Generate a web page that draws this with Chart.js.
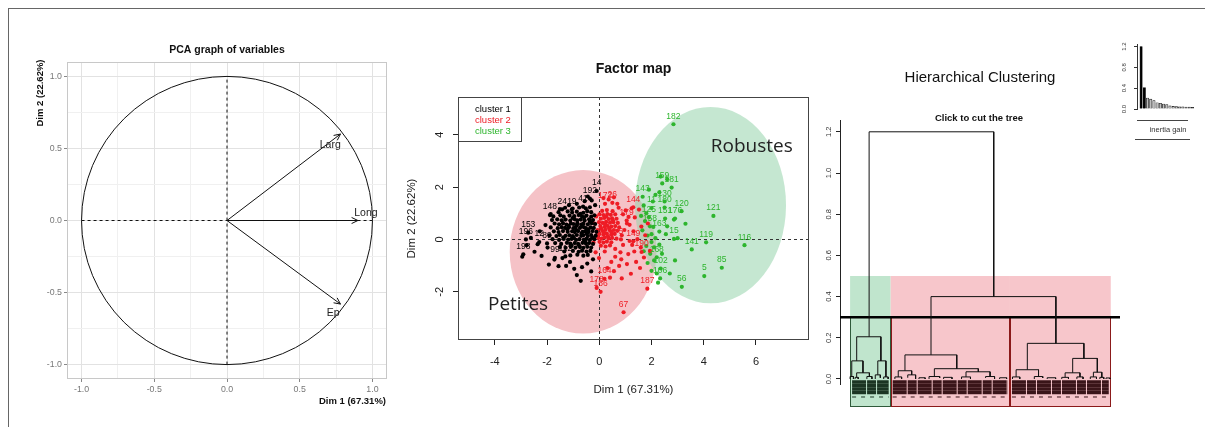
<!DOCTYPE html>
<html>
<head>
<meta charset="utf-8">
<script src="https://cdn.jsdelivr.net/npm/chart.js@4.4.0/dist/chart.umd.min.js"></script>
<style>
  body { margin: 0; background: #fff; width: 1205px; height: 427px; overflow: hidden; position: relative; }
  canvas { position: absolute; }
  #frame { position: absolute; left: 8px; top: 8px; width: 1200px; height: 420px; border-top: 1.5px solid #666; border-left: 1.5px solid #666; }
</style>
</head>
<body>
<div id="frame"></div>
<canvas id="pca" width="390" height="417" style="left:10px;top:10px"></canvas>
<canvas id="fmap" width="420" height="417" style="left:400px;top:10px"></canvas>
<canvas id="tree" width="330" height="417" style="left:800px;top:10px"></canvas>
<canvas id="gain" width="95" height="125" style="left:1110px;top:30px"></canvas>
<script>
// ---- PCA graph of variables ----
const varNames = ['Larg', 'Long', 'Ep'];
const varDim1 = [0.78, 0.90, 0.78];
const varDim2 = [0.60, 0.00, -0.58];
const varLabelDim1 = [0.71, 0.955, 0.73];
const varLabelDim2 = [0.52, 0.05, -0.64];
const pcaTicks = [-1.0, -0.5, 0.0, 0.5, 1.0];

// ---- Factor map ----
const clusterNames = ['cluster 1', 'cluster 2', 'cluster 3'];
const fmapXTicks = [-4, -2, 0, 2, 4, 6];
const fmapYTicks = [-2, 0, 2, 4];

const cluster1 = [
  [-2.95,-0.66],[-2.78,-0.22],[-2.62,0.06],[-2.48,-0.47],[-2.36,-0.18],[-2.28,0.31],[-2.21,-0.63],[-2.06,0.55],
  [-1.98,-0.31],[-1.93,-0.96],[-1.86,0.97],[-1.72,-0.77],[-1.56,-1.02],[-1.41,-0.71],[-1.27,-1.01],[-1.12,-0.86],
  [-0.96,-1.12],[-0.86,-1.36],[-0.71,-1.58],[-0.66,-1.06],[-0.46,-0.92],[-0.31,-1.22],[-0.24,-0.76],[-0.56,1.46],
  [-0.44,1.64],[-0.29,1.49],[-0.16,1.31],[-0.86,1.36],[-1.16,1.31],[-1.51,1.16],
  [-1.31,1.21],[-1.02,1.18],[-0.77,1.22],[-0.52,1.19],[-0.36,1.23],
  [-1.56,1.04],[-1.21,1.07],[-1.04,1.03],[-0.86,1.06],[-0.61,1.02],[-0.46,1.08],[-0.31,1.04],
  [-1.76,0.88],[-1.49,0.92],[-1.36,0.87],[-1.14,0.91],[-0.96,0.89],[-0.79,0.93],[-0.66,0.88],[-0.49,0.91],[-0.31,0.87],[-0.19,0.92],
  [-1.81,0.74],[-1.61,0.77],[-1.44,0.73],[-1.29,0.76],[-1.11,0.72],[-0.94,0.77],[-0.84,0.73],[-0.71,0.76],[-0.56,0.72],[-0.39,0.77],[-0.24,0.74],
  [-1.71,0.61],[-1.54,0.58],[-1.39,0.62],[-1.26,0.57],[-1.09,0.61],[-0.99,0.59],[-0.84,0.62],[-0.69,0.57],[-0.61,0.61],[-0.44,0.58],[-0.29,0.62],[-0.16,0.59],
  [-1.86,0.46],[-1.59,0.43],[-1.44,0.47],[-1.31,0.44],[-1.16,0.47],[-0.99,0.43],[-0.91,0.46],[-0.74,0.44],[-0.59,0.47],[-0.51,0.43],[-0.34,0.46],[-0.21,0.44],
  [-1.74,0.31],[-1.56,0.28],[-1.39,0.32],[-1.21,0.29],[-1.04,0.31],[-0.94,0.28],[-0.81,0.32],[-0.64,0.29],[-0.54,0.31],[-0.41,0.28],[-0.26,0.32],[-0.11,0.29],
  [-1.91,0.16],[-1.64,0.13],[-1.51,0.17],[-1.29,0.14],[-1.14,0.16],[-1.01,0.13],[-0.86,0.17],[-0.69,0.14],[-0.61,0.16],[-0.44,0.13],[-0.31,0.17],[-0.14,0.14],
  [-1.79,0.01],[-1.54,-0.02],[-1.36,0.02],[-1.19,-0.01],[-1.06,0.02],[-0.89,-0.02],[-0.76,0.01],[-0.59,-0.01],[-0.49,0.02],[-0.36,-0.02],[-0.19,0.01],
  [-1.69,-0.14],[-1.46,-0.17],[-1.24,-0.13],[-1.11,-0.16],[-0.94,-0.14],[-0.81,-0.17],[-0.64,-0.13],[-0.51,-0.16],[-0.39,-0.14],[-0.24,-0.17],
  [-1.51,-0.29],[-1.29,-0.32],[-1.09,-0.28],[-0.91,-0.31],[-0.74,-0.29],[-0.61,-0.32],[-0.46,-0.28],[-0.31,-0.31],
  [-1.34,-0.46],[-1.01,-0.44],[-0.79,-0.47],[-0.66,-0.43],[-0.49,-0.46],[-0.34,-0.44],
  [-1.11,-0.61],[-0.84,-0.58],[-0.61,-0.62],[-0.44,-0.59],
  [-1.18,0.52],[-0.88,0.36],[-0.67,0.51],[-0.48,0.22],[-1.02,0.82],[-0.72,0.98],[-0.36,0.68],[-1.22,0.38],[-0.97,0.06],
  [-0.78,-0.22],[-0.55,-0.07],[-0.27,0.08],[-1.38,0.08],[-0.58,0.84],[-0.42,0.38],[-0.86,0.54],[-1.06,-0.23],[-0.68,0.23]
];
const cluster1Labels = [
  ['14',-0.10,1.85],['192',-0.36,1.56],['148',-1.89,0.93],['24',-1.42,1.15],['153',-2.72,0.26],['196',-2.81,0.0],
  ['198',-2.91,-0.57],['12',-2.3,-0.1],['89',-2.0,-0.15],['99',-1.7,-0.7],['112',-1.3,-0.65],['19',-1.05,1.15],['41',-0.62,1.25]
];

const cluster2 = [
  [0.11,1.09],[0.29,1.12],[0.51,1.08],
  [0.01,0.96],[0.16,0.93],[0.31,0.97],[0.44,0.94],[0.61,0.96],
  [0.06,0.79],[0.19,0.82],[0.36,0.78],[0.49,0.81],[0.66,0.79],
  [-0.01,0.66],[0.13,0.63],[0.26,0.67],[0.41,0.64],[0.54,0.66],[0.71,0.63],
  [0.04,0.51],[0.21,0.48],[0.31,0.52],[0.46,0.49],[0.61,0.51],
  [-0.06,0.36],[0.11,0.33],[0.24,0.37],[0.41,0.34],[0.56,0.36],[0.69,0.33],
  [0.01,0.21],[0.16,0.18],[0.29,0.22],[0.46,0.19],[0.59,0.21],
  [-0.04,0.06],[0.09,0.03],[0.21,0.07],[0.36,0.04],[0.49,0.06],[0.66,0.03],
  [0.01,-0.09],[0.16,-0.12],[0.29,-0.08],[0.46,-0.11],
  [0.06,-0.24],[0.24,-0.27],[0.41,-0.23],
  [0.16,1.58],[0.36,1.53],[0.56,1.61],[0.74,1.21],[0.91,0.96],[1.12,0.86],[1.36,0.84],[1.52,1.14],[1.16,0.56],
  [0.96,0.36],[1.31,0.31],[1.61,0.49],[1.76,0.16],[1.46,0.01],[1.16,-0.06],[0.91,-0.21],[1.59,-0.31],[1.34,-0.46],
  [1.11,-0.56],[0.81,-0.49],[0.61,-0.66],[0.46,-0.86],[0.76,-1.01],[1.06,-0.94],[1.41,-0.86],[1.71,-0.69],[0.56,-1.21],
  [0.31,-1.09],[0.41,-1.46],[1.21,-1.31],[0.86,-1.49],[1.56,-1.09],[-0.14,-0.49],[-0.09,0.16],[-0.01,-0.71],[0.21,-0.46],
  [0.69,1.36],[1.01,1.11],[1.24,1.19],[1.86,0.61],[1.94,-0.44],[0.61,-0.36],[-0.19,0.61],[-0.12,0.88],[-0.22,-0.12],
  [0.86,0.16],[1.06,0.61],[0.76,0.46],[0.84,-0.76],[1.26,-0.21],
  [0.23,0.58],[0.38,0.43],[0.18,0.27],[0.52,0.73],[0.33,0.12],[0.07,0.43],[0.47,0.28],[0.27,0.88]
];
const cluster2Labels = [
  ['67',0.93,-2.78],['187',1.84,-1.88],['164',0.2,-1.5],['178',-0.1,-1.85],['186',0.05,-2.0],['144',1.3,1.23],
  ['172',0.22,1.36],['26',0.5,1.4],['179',1.05,0.72],['5',0.83,0.0],['190',1.62,-0.48],['149',1.3,-0.07]
];

const cluster3 = [
  [1.7,1.3],[1.8,1.0],[1.75,0.7],[1.6,0.9],[1.65,0.35],[1.85,0.15],[2.0,-0.1],[1.7,-0.45],[1.95,-0.55],[2.1,-0.8],
  [1.85,-0.9],[2.0,-1.2],[2.2,-1.3],[2.25,-1.65],[2.1,-0.3],[2.4,-0.55],[2.55,0.2],[2.6,0.5],[3.0,0.05],[2.9,-0.8],
  [2.7,-1.3],[2.35,2.4],[2.6,2.3],[2.15,1.7],[2.3,1.8],[2.05,1.45],[1.9,1.9],[3.3,0.6],[2.86,0.76],[2.0,0.2],
  [1.8,-0.25],[2.15,0.05],[2.07,0.48],[2.3,-0.2]
];
const cluster3Labels = [
  ['182',2.84,4.40],['159',2.41,2.14],['181',2.77,1.98],['143',1.66,1.63],['130',2.5,1.45],['180',2.5,1.22],
  ['120',3.15,1.08],['121',4.37,0.90],['119',4.09,-0.11],['116',5.56,-0.22],['141',3.54,-0.38],['85',4.69,-1.08],
  ['5',4.02,-1.40],['56',3.16,-1.81],['102',2.35,-1.11],['106',2.33,-1.49],['151',2.52,0.8],['176',2.9,0.8],
  ['125',1.9,0.85],['11',2.0,1.2],['15',2.86,0.02],['168',2.2,-0.68],['163',2.3,0.3],['158',1.94,0.5]
];

// confidence ellipses (Petites, Robustes)
const groupNames = ['Petites', 'Robustes'];
const ellipseCenterX = [-0.62, 4.26];
const ellipseCenterY = [-0.47, 1.31];
const ellipseRadiusX = [2.81, 2.89];
const ellipseRadiusY = [3.12, 3.75];
const groupLabelX = [-3.11, 5.84];
const groupLabelY = [-2.47, 3.53];

// ---- Hierarchical clustering ----
// [left x, right x, height, left child height, right child height]
const treeMerges = [
  [10.4, 54.9, 1.20, 0.205, 0.40],
  [5.96, 14.6, 0.205, 0.088, 0.088],
  [4.2, 8.2, 0.088, 0.012, 0.03],
  [5.95, 10.5, 0.03, 0.008, 0.012],
  [13.5, 16.4, 0.088, 0.02, 0.01],
  [32.5, 77.1, 0.40, 0.117, 0.173],
  [23.2, 41.7, 0.117, 0.04, 0.05],
  [20.8, 25.6, 0.04, 0.01, 0.02],
  [33.7, 49.4, 0.05, 0.012, 0.035],
  [45.0, 53.6, 0.035, 0.01, 0.012],
  [66.9, 87.1, 0.173, 0.045, 0.10],
  [62.9, 70.9, 0.045, 0.01, 0.012],
  [83.1, 91.9, 0.10, 0.03, 0.033],
  [80.4, 85.7, 0.03, 0.008, 0.01],
  [90.5, 93.5, 0.033, 0.01, 0.008],
  [3.6, 4.8, 0.012, 0, 0], [5.4, 6.5, 0.008, 0, 0], [9.6, 11.4, 0.012, 0, 0], [12.6, 14.4, 0.02, 0, 0.006],
  [15.6, 17.2, 0.01, 0, 0], [19.6, 22.0, 0.01, 0, 0], [24.2, 27.0, 0.02, 0.006, 0], [28.2, 30.4, 0.006, 0, 0],
  [31.8, 35.6, 0.012, 0, 0.005], [37.0, 40.0, 0.008, 0, 0], [43.4, 46.6, 0.01, 0, 0], [52.0, 55.2, 0.012, 0.005, 0],
  [57.0, 59.5, 0.006, 0, 0], [61.6, 64.2, 0.01, 0, 0], [69.4, 72.4, 0.012, 0, 0.005], [74.0, 77.0, 0.006, 0, 0],
  [79.2, 81.6, 0.008, 0, 0], [84.6, 86.8, 0.01, 0, 0], [89.4, 91.6, 0.01, 0, 0], [92.8, 94.2, 0.008, 0, 0],
  [95.0, 96.4, 0.005, 0, 0]
];
const cutHeight = 0.30;
const clusterStart = [3.6, 18.1, 60.7];
const clusterEnd = [18.1, 60.7, 96.7];
const rectTop = 0.5;
const rectBottom = -0.134;

// ---- inertia gain inset ----
const gainValues = [1.20, 0.41, 0.21, 0.19, 0.16, 0.12, 0.11, 0.095, 0.085, 0.06, 0.05, 0.045, 0.04, 0.04, 0.035, 0.035, 0.03];
const nbClusters = 3;

const FONT = '"Liberation Sans", Arial, sans-serif';
Chart.defaults.font.family = FONT;
Chart.defaults.animation = false;
Chart.defaults.responsive = false;
Chart.defaults.plugins.legend.display = false;
Chart.defaults.plugins.tooltip.enabled = false;

const clusterColors = ['#000000', '#EE1C25', '#2DB52D'];

function drawText(ctx, s, x, y, font, color, align, rot) {
  ctx.save();
  ctx.font = font;
  ctx.fillStyle = color;
  ctx.textAlign = align || 'center';
  ctx.textBaseline = 'middle';
  ctx.translate(x, y);
  if (rot) ctx.rotate(rot);
  ctx.fillText(s, 0, 0);
  ctx.restore();
}

// ================= PCA graph of variables =================
const isMajor = v => pcaTicks.some(t => Math.abs(t - v) < 1e-9);
const pcaDecor = {
  id: 'pcaDecor',
  beforeDatasetsDraw(chart) {
    const { ctx, chartArea: a, scales: { x, y } } = chart;
    ctx.save();
    ctx.strokeStyle = '#C8C8C8';
    ctx.lineWidth = 1;
    ctx.strokeRect(a.left + 0.5, a.top + 0.5, a.width - 1, a.height - 1);
    const cx = x.getPixelForValue(0), cy = y.getPixelForValue(0);
    ctx.strokeStyle = '#111';
    ctx.beginPath();
    ctx.ellipse(cx, cy, x.getPixelForValue(1) - cx, cy - y.getPixelForValue(1), 0, 0, Math.PI * 2);
    ctx.stroke();
    ctx.restore();
  },
  afterDatasetsDraw(chart) {
    const { ctx, scales: { x, y } } = chart;
    ctx.save();
    ctx.strokeStyle = '#111';
    ctx.lineWidth = 1;
    chart.data.datasets.forEach((ds, i) => {
      if (!ds.arrow) return;
      const pts = chart.getDatasetMeta(i).data;
      const p0 = pts[0], p1 = pts[1];
      const ang = Math.atan2(p1.y - p0.y, p1.x - p0.x);
      ctx.beginPath();
      [-1, 1].forEach(s => {
        ctx.moveTo(p1.x, p1.y);
        ctx.lineTo(p1.x - 7 * Math.cos(ang + s * 0.45), p1.y - 7 * Math.sin(ang + s * 0.45));
      });
      ctx.stroke();
    });
    ctx.restore();
    varNames.forEach((n, i) => {
      drawText(ctx, n, x.getPixelForValue(varLabelDim1[i]), y.getPixelForValue(varLabelDim2[i]), '10.5px ' + FONT, '#222');
    });
  },
  afterDraw(chart) {
    const { ctx, chartArea: a } = chart;
    drawText(ctx, 'PCA graph of variables', (a.left + a.right) / 2, 40, 'bold 10.5px ' + FONT, '#111');
    drawText(ctx, 'Dim 2 (22.62%)', 30, 83, 'bold 9.5px ' + FONT, '#111', 'center', -Math.PI / 2);
    drawText(ctx, 'Dim 1 (67.31%)', a.right - 1, 391, 'bold 9.5px ' + FONT, '#111', 'right');
  }
};

const pcaAxis = {
  type: 'linear', min: -1.1, max: 1.1,
  border: { display: false },
  grid: {
    color: c => isMajor(c.tick.value) ? '#E2E2E2' : '#F0F0F0',
    tickColor: c => isMajor(c.tick.value) ? '#888' : 'rgba(0,0,0,0)',
    tickLength: 3
  },
  ticks: {
    stepSize: 0.25, includeBounds: false, autoSkip: false, maxRotation: 0,
    font: { size: 8.8 }, color: '#777', padding: 2,
    callback: v => isMajor(v) ? v.toFixed(1) : ''
  }
};

new Chart(document.getElementById('pca'), {
  type: 'scatter',
  data: {
    datasets: [
      { data: [{ x: -1, y: 0 }, { x: 1, y: 0 }], showLine: true, borderDash: [3, 3], borderColor: '#111', borderWidth: 1, pointRadius: 0 },
      { data: [{ x: 0, y: -1 }, { x: 0, y: 1 }], showLine: true, borderDash: [3, 3], borderColor: '#111', borderWidth: 1, pointRadius: 0 },
      ...varNames.map((n, i) => ({
        label: n, arrow: true,
        data: [{ x: 0, y: 0 }, { x: varDim1[i], y: varDim2[i] }],
        showLine: true, borderColor: '#111', borderWidth: 1, pointRadius: 0
      }))
    ]
  },
  options: {
    layout: { padding: { top: 52, right: 13, left: 0, bottom: 0 } },
    scales: {
      x: { ...pcaAxis, afterFit: s => { s.height = 48; } },
      y: { ...pcaAxis, afterFit: s => { s.width = 57; } }
    }
  },
  plugins: [pcaDecor]
});

// ================= Factor map =================
const clusterPoints = [cluster1, cluster2, cluster3];
const clusterLabels = [cluster1Labels, cluster2Labels, cluster3Labels];

const fmapDecor = {
  id: 'fmapDecor',
  beforeDatasetsDraw(chart) {
    const { ctx, chartArea: a, scales: { x, y } } = chart;
    ctx.save();
    ctx.beginPath();
    ctx.rect(a.left, a.top, a.width, a.height);
    ctx.clip();
    const fills = ['rgb(245,194,199)', 'rgba(150,212,172,0.55)'];
    groupNames.forEach((g, i) => {
      const cx = x.getPixelForValue(ellipseCenterX[i]);
      const cy = y.getPixelForValue(ellipseCenterY[i]);
      const rx = x.getPixelForValue(ellipseCenterX[i] + ellipseRadiusX[i]) - cx;
      const ry = cy - y.getPixelForValue(ellipseCenterY[i] + ellipseRadiusY[i]);
      ctx.fillStyle = fills[i];
      ctx.beginPath();
      ctx.ellipse(cx, cy, rx, ry, 0, 0, Math.PI * 2);
      ctx.fill();
    });
    ctx.strokeStyle = '#333';
    ctx.lineWidth = 1;
    ctx.setLineDash([3, 3]);
    const x0 = Math.round(x.getPixelForValue(0)) + 0.5, y0 = Math.round(y.getPixelForValue(0)) + 0.5;
    ctx.beginPath();
    ctx.moveTo(x0, a.top); ctx.lineTo(x0, a.bottom);
    ctx.moveTo(a.left, y0); ctx.lineTo(a.right, y0);
    ctx.stroke();
    ctx.restore();
    groupNames.forEach((g, i) => {
      drawText(ctx, g, x.getPixelForValue(groupLabelX[i]), y.getPixelForValue(groupLabelY[i]), '19px "Open Sans", ' + FONT, '#222');
    });
  },
  afterDatasetsDraw(chart) {
    const { ctx, chartArea: a, scales: { x, y } } = chart;
    clusterLabels.forEach((list, c) => {
      list.forEach(([name, vx, vy]) => {
        drawText(ctx, name, x.getPixelForValue(vx), y.getPixelForValue(vy) - 8, '8.5px ' + FONT, clusterColors[c]);
      });
    });
    ctx.save();
    ctx.strokeStyle = '#444';
    ctx.lineWidth = 1;
    ctx.strokeRect(Math.round(a.left) + 0.5, Math.round(a.top) + 0.5, Math.round(a.width) - 1, Math.round(a.height) - 1);
    ctx.strokeRect(Math.round(a.left) + 0.5, Math.round(a.top) + 0.5, 63, 44);
    ctx.restore();
    clusterNames.forEach((n, i) => {
      drawText(ctx, n, a.left + 17, a.top + 12.5 + i * 10.8, '9.5px ' + FONT, clusterColors[i], 'left');
    });
  },
  afterDraw(chart) {
    const { ctx, chartArea: a } = chart;
    const cx = (a.left + a.right) / 2;
    drawText(ctx, 'Factor map', cx, 59, 'bold 14px ' + FONT, '#111');
    drawText(ctx, 'Dim 1 (67.31%)', cx, 380, '11.5px ' + FONT, '#222');
    drawText(ctx, 'Dim 2 (22.62%)', 12, (a.top + a.bottom) / 2, '11.5px ' + FONT, '#222', 'center', -Math.PI / 2);
  }
};

new Chart(document.getElementById('fmap'), {
  type: 'scatter',
  data: {
    datasets: clusterPoints.map((pts, c) => ({
      label: clusterNames[c],
      data: pts.map(p => ({ x: p[0], y: p[1] })).concat(clusterLabels[c].map(l => ({ x: l[1], y: l[2] }))),
      backgroundColor: clusterColors[c],
      borderWidth: 0,
      pointRadius: 2.1
    }))
  },
  options: {
    layout: { padding: { top: 87, right: 11, left: 0, bottom: 0 } },
    scales: {
      x: {
        type: 'linear', min: -5.41, max: 8.03,
        afterFit: s => { s.height = 87; },
        border: { display: false },
        grid: {
          drawOnChartArea: false, tickLength: 5, color: '#222',
          tickColor: c => fmapXTicks.includes(c.tick.value) ? '#222' : 'rgba(0,0,0,0)'
        },
        ticks: {
          stepSize: 2, includeBounds: false, autoSkip: false, maxRotation: 0,
          font: { size: 11 }, color: '#222', padding: 10,
          callback: v => fmapXTicks.includes(v) ? String(v) : ''
        }
      },
      y: {
        type: 'linear', min: -3.84, max: 5.44,
        afterFit: s => { s.width = 58; },
        border: { display: false },
        grid: {
          drawOnChartArea: false, tickLength: 5, color: '#222',
          tickColor: c => fmapYTicks.includes(c.tick.value) ? '#222' : 'rgba(0,0,0,0)'
        },
        ticks: {
          stepSize: 2, includeBounds: false, autoSkip: false, minRotation: 90, maxRotation: 90,
          crossAlign: 'center', font: { size: 11 }, color: '#222', padding: 8,
          callback: v => fmapYTicks.includes(v) ? String(v) : ''
        }
      }
    }
  },
  plugins: [fmapDecor]
});

// ================= Hierarchical clustering =================
const treeData = [];
treeMerges.forEach(([xl, xr, h, hl, hr]) => {
  treeData.push({ x: xl, y: hl }, { x: xl, y: h }, { x: xr, y: h }, { x: xr, y: hr }, { x: xr, y: null });
});

const treeDecor = {
  id: 'treeDecor',
  beforeDatasetsDraw(chart) {
    const { ctx, scales: { x, y } } = chart;
    const fills = ['rgba(150,212,172,0.6)', 'rgb(247,198,203)', 'rgb(247,198,203)'];
    ctx.save();
    clusterStart.forEach((s, i) => {
      const l = x.getPixelForValue(s), r = x.getPixelForValue(clusterEnd[i]);
      ctx.fillStyle = fills[i];
      ctx.fillRect(l, y.getPixelForValue(rectTop), r - l, y.getPixelForValue(rectBottom) - y.getPixelForValue(rectTop));
    });
    // leaf labels band
    const base = y.getPixelForValue(0);
    const rows = [3, 6.5, 10, 13.5];
    clusterStart.forEach((s, i) => {
      const l = x.getPixelForValue(s) + 2, r = x.getPixelForValue(clusterEnd[i]) - 2;
      ctx.strokeStyle = i === 0 ? '#1c3523' : '#3a1519';
      ctx.lineWidth = 3.4;
      ctx.setLineDash([14, 1, 9, 1]);
      rows.forEach(dy => {
        ctx.beginPath(); ctx.moveTo(l, base + dy); ctx.lineTo(r, base + dy); ctx.stroke();
      });
      ctx.lineWidth = 1;
      ctx.setLineDash([4, 5]);
      ctx.beginPath(); ctx.moveTo(l, base + 18); ctx.lineTo(r, base + 18); ctx.stroke();
    });
    ctx.setLineDash([]);
    const borders = ['#2f5a3a', '#8B1A1A', '#8B1A1A'];
    clusterStart.forEach((s, i) => {
      const l = Math.round(x.getPixelForValue(s)) + 0.5, r = Math.round(x.getPixelForValue(clusterEnd[i])) - 0.5;
      const t = y.getPixelForValue(cutHeight), b = Math.round(y.getPixelForValue(rectBottom)) - 0.5;
      ctx.strokeStyle = borders[i];
      ctx.lineWidth = 1;
      ctx.strokeRect(l, t, r - l, b - t);
    });
    ctx.restore();
  },
  afterDraw(chart) {
    const { ctx } = chart;
    drawText(ctx, 'Hierarchical Clustering', 180, 68, '15px ' + FONT, '#111');
    drawText(ctx, 'Click to cut the tree', 179, 108, 'bold 9.5px ' + FONT, '#111');
  }
};

new Chart(document.getElementById('tree'), {
  type: 'scatter',
  data: {
    datasets: [
      { data: treeData, showLine: true, spanGaps: false, borderColor: '#111', borderWidth: 1, pointRadius: 0 },
      { data: [{ x: 0, y: cutHeight }, { x: 100, y: cutHeight }], showLine: true, borderColor: '#000', borderWidth: 2.5, pointRadius: 0 }
    ]
  },
  options: {
    layout: { padding: { top: 110, right: 10, left: 0, bottom: 43 } },
    scales: {
      x: { type: 'linear', min: 0, max: 100, display: false },
      y: {
        type: 'linear', min: -0.0243, max: 1.2573,
        afterFit: s => { s.width = 40; },
        border: { display: true, color: '#222', width: 1 },
        grid: { drawOnChartArea: false, tickLength: 4, color: '#222' },
        ticks: {
          stepSize: 0.2, includeBounds: false, autoSkip: false, minRotation: 90, maxRotation: 90,
          crossAlign: 'center', font: { size: 7.5 }, color: '#333', padding: 2,
          callback: v => v.toFixed(1)
        }
      }
    }
  },
  plugins: [treeDecor]
});

// ================= inertia gain inset =================
const gainDecor = {
  id: 'gainDecor',
  afterDraw(chart) {
    const { ctx, chartArea: a } = chart;
    ctx.save();
    ctx.strokeStyle = '#444';
    ctx.lineWidth = 1;
    ctx.beginPath();
    ctx.moveTo(a.left, 90.5); ctx.lineTo(a.left + 51, 90.5);
    ctx.moveTo(a.left - 2, 109.5); ctx.lineTo(a.left + 53, 109.5);
    ctx.stroke();
    ctx.restore();
    drawText(ctx, 'inertia gain', a.left + 31, 100, '7.5px ' + FONT, '#333');
  }
};

new Chart(document.getElementById('gain'), {
  type: 'bar',
  data: {
    datasets: [{
      data: gainValues.map((v, i) => ({ x: i + 1, y: v })),
      backgroundColor: gainValues.map((v, i) => i < nbClusters - 1 ? '#000' : '#bebebe'),
      borderColor: '#111',
      borderWidth: 0.6,
      barThickness: 2.4
    }]
  },
  options: {
    layout: { padding: { top: 14, right: 10, left: 0, bottom: 46 } },
    scales: {
      x: { type: 'linear', min: -0.28, max: 17.8, offset: false, display: false },
      y: {
        min: 0, max: 1.25,
        afterFit: s => { s.width = 27; },
        border: { display: true, color: '#333', width: 1 },
        grid: { drawOnChartArea: false, tickLength: 3, color: '#333' },
        ticks: {
          stepSize: 0.4, includeBounds: false, autoSkip: false, minRotation: 90, maxRotation: 90,
          crossAlign: 'center', font: { size: 6 }, color: '#333', padding: 5,
          callback: v => v.toFixed(1)
        }
      }
    }
  },
  plugins: [gainDecor]
});
</script>
</body>
</html>
